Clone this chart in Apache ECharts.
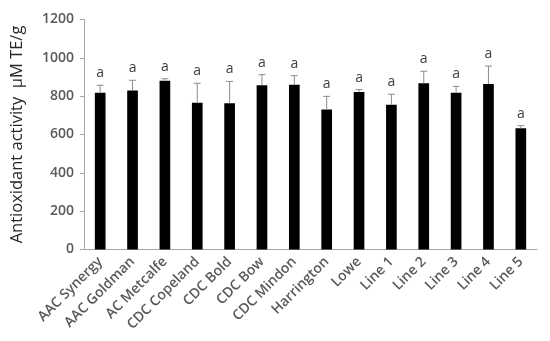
<!DOCTYPE html>
<html><head><meta charset="utf-8">
<script src="https://cdn.jsdelivr.net/npm/echarts@6/dist/echarts.min.js"></script>
<style>html,body{margin:0;padding:0;background:#fff}#c{width:550px;height:341px}</style>
</head><body><div id="c"></div>
<script>
const categories = ["AAC Synergy","AAC Goldman","AC Metcalfe","CDC Copeland","CDC Bold","CDC Bow","CDC Mindon","Harrington","Lowe","Line 1","Line 2","Line 3","Line 4","Line 5"];
const means = [818, 830, 881, 766, 763, 857, 860, 731, 822, 755, 867, 818, 863, 632];
const errors = [39, 53, 10, 101, 114, 55, 47, 68, 12, 55, 63, 33, 94, 14];
const letters = ["a","a","a","a","a","a","a","a","a","a","a","a","a","a"];
const yTicks = {min: 0, max: 1200, interval: 200};

const FONT = "Open Sans";
const chart = echarts.init(document.getElementById('c'), null, {renderer: 'canvas'});
const errData = categories.map((c, i) => [i, means[i], means[i] + errors[i], letters[i]]);
chart.setOption({
  animation: false,
  backgroundColor: '#fff',
  grid: {left: 84, right: 13, top: 19.5, bottom: 91.5, containLabel: false},
  xAxis: {
    type: 'category', data: categories,
    axisLine: {lineStyle: {color: '#a6a6a6', width: 1}},
    axisTick: {show: false},
    axisLabel: {rotate: 45, color: '#595959', fontFamily: FONT, fontSize: 14, fontWeight: 600, margin: 10, interval: 0}
  },
  yAxis: {
    type: 'value', min: yTicks.min, max: yTicks.max, interval: yTicks.interval,
    name: 'Antioxidant activity  µM TE/g', nameLocation: 'middle', nameGap: 58,
    nameTextStyle: {color: '#262626', fontFamily: FONT, fontSize: 16.5},
    axisLine: {show: true, lineStyle: {color: '#a6a6a6', width: 1}},
    axisTick: {show: true, length: 4, lineStyle: {color: '#a6a6a6'}},
    splitLine: {show: false},
    axisLabel: {color: '#595959', fontFamily: FONT, fontSize: 14, fontWeight: 600, margin: 10, formatter: v => String(v)}
  },
  series: [
    {type: 'bar', data: means, barWidth: '33%', itemStyle: {color: '#000'}},
    {
      type: 'custom', data: errData, z: 3,
      renderItem: function (params, api) {
        const x = api.value(0);
        const base = api.coord([x, api.value(1)]);
        const top = api.coord([x, api.value(2)]);
        const cap = 3.5;
        return {
          type: 'group',
          children: [
            {type: 'line', shape: {x1: base[0], y1: base[1], x2: top[0], y2: top[1]}, style: {stroke: '#8c8c8c', lineWidth: 1}},
            {type: 'line', shape: {x1: top[0] - cap, y1: top[1], x2: top[0] + cap, y2: top[1]}, style: {stroke: '#8c8c8c', lineWidth: 1}},
            {type: 'text', x: top[0], y: top[1] - 5, style: {text: api.value(3), fill: '#404040', font: '14px "' + FONT + '"', textAlign: 'center', textVerticalAlign: 'bottom'}}
          ]
        };
      }
    }
  ]
});
</script></body></html>
